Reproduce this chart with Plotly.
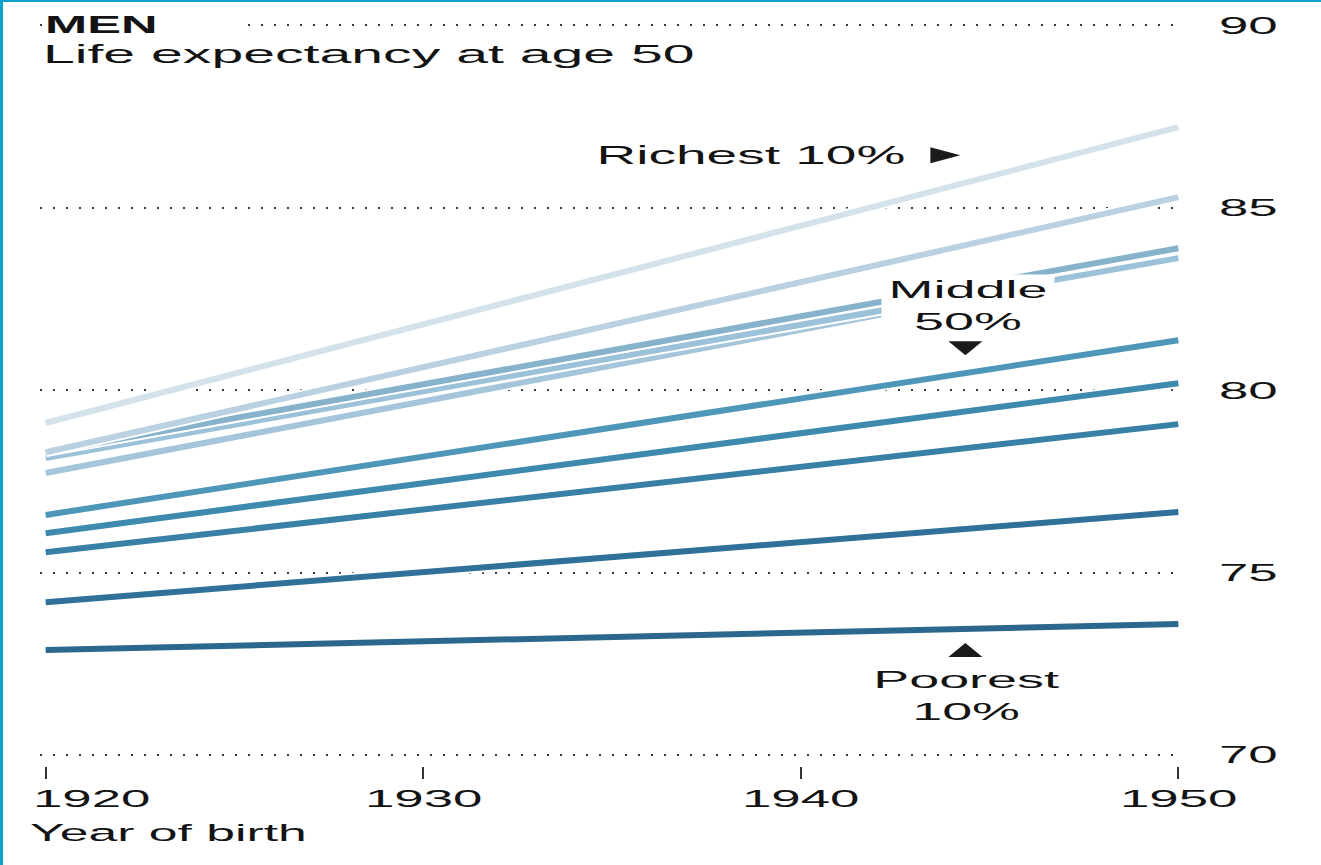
import plotly.graph_objects as go

# Birth cohorts shown on the x axis
birth_years = [1920, 1950]

# Life expectancy at 50 by income decile (richest first), for the 1920 and 1950 cohorts
group_names = ["Decile 10", "Decile 9", "Decile 8", "Decile 7", "Decile 6",
               "Decile 5", "Decile 4", "Decile 3", "Decile 2", "Decile 1"]
life_exp_1920 = [79.10, 78.30, 78.30, 78.14, 77.73, 76.58, 76.08, 75.56, 74.19, 72.88]
life_exp_1950 = [87.21, 85.29, 83.89, 83.62, 83.62, 81.37, 80.19, 79.07, 76.66, 73.59]
line_colors = ["#d3e2eb", "#b9d1e0", "#86b2cc", "#9cc2d9", "#a5c5da",
               "#4f97b8", "#3e8aae", "#3880a5", "#2f7198", "#2c678d"]

x_ticks = [1920, 1930, 1940, 1950]
y_ticks = [70, 75, 80, 85, 90]

FONT = "Liberation Sans, Arial, sans-serif"
INK = "#131313"
W, H = 1321, 865
ML, MR, MT, MB = 40, 137, 18, 99
PW, PH = W - ML - MR, H - MT - MB

fig = go.Figure()

# poorest first so richer lines sit on top; a white casing under each line
for i in reversed(range(len(group_names))):
    ys = [life_exp_1920[i], life_exp_1950[i]]
    fig.add_trace(go.Scatter(x=birth_years, y=ys, mode="lines",
                             line=dict(color="white", width=10),
                             hoverinfo="skip", showlegend=False))
    fig.add_trace(go.Scatter(x=birth_years, y=ys, mode="lines", name=group_names[i],
                             line=dict(color=line_colors[i], width=6),
                             showlegend=False))

annotations = []
# titles
annotations.append(dict(x=(44 - ML) / PW, y=90, xref="paper", yref="y", xanchor="left", yanchor="middle",
                        text="<b>MEN</b>", align="left", width=200, bgcolor="white", borderpad=0,
                        font=dict(family=FONT, size=23, color=INK), showarrow=False))
annotations.append(dict(x=(42 - ML) / PW, y=89.22, xref="paper", yref="y", xanchor="left", yanchor="middle",
                        text="Life expectancy at age 50", align="left", borderpad=0,
                        font=dict(family=FONT, size=26, color=INK), showarrow=False))
# group labels
annotations.append(dict(x=1942.8, y=86.44, xref="x", yref="y", xanchor="right", yanchor="middle",
                        text="Richest 10%", align="right",
                        font=dict(family=FONT, size=25, color=INK), showarrow=False))
annotations.append(dict(x=1944.44, y=82.33, xref="x", yref="y", xanchor="center", yanchor="middle",
                        text="Middle<br>50%", align="center", width=170, bgcolor="white",
                        font=dict(family=FONT, size=24.5, color=INK), showarrow=False))
annotations.append(dict(x=1944.39, y=71.63, xref="x", yref="y", xanchor="center", yanchor="middle",
                        text="Poorest<br>10%", align="center",
                        font=dict(family=FONT, size=24.5, color=INK), showarrow=False))
# x tick labels and axis caption
for yr in x_ticks:
    if yr == x_ticks[0]:
        annotations.append(dict(x=(32 - ML) / PW, y=-0.043, xref="paper", yref="paper",
                                xanchor="left", yanchor="middle", text=str(yr), align="left",
                                borderpad=0, font=dict(family=FONT, size=24, color=INK),
                                showarrow=False))
    else:
        annotations.append(dict(x=yr, y=-0.043, xref="x", yref="paper",
                                xanchor="center", yanchor="middle", text=str(yr), align="center",
                                font=dict(family=FONT, size=24, color=INK), showarrow=False))
annotations.append(dict(x=(29 - ML) / PW, y=-0.09, xref="paper", yref="paper", xanchor="left",
                        yanchor="middle", text="Year of birth", align="left", borderpad=0,
                        font=dict(family=FONT, size=23.5, color=INK), showarrow=False))

shapes = []
# pointer triangles next to the group labels (pixel-sized, anchored in data space)
for ax_, ay_, path in [(1943.83, 86.44, "M-15,8 L15,0 L-15,-8 Z"),
                       (1944.36, 81.15, "M-17,7 L17,7 L0,-7 Z"),
                       (1944.36, 72.88, "M-17,-7 L17,-7 L0,7 Z")]:
    shapes.append(dict(type="path", xref="x", yref="y", xsizemode="pixel", ysizemode="pixel",
                       xanchor=ax_, yanchor=ay_, path=path, fillcolor="#1b1b1b",
                       line=dict(width=0)))
# frame rules on the left and top edges of the page
shapes.append(dict(type="rect", xref="paper", yref="paper", x0=-ML / PW, x1=(-ML + 3) / PW,
                   y0=-MB / PH, y1=1 + MT / PH, fillcolor="#0aa2cc", line=dict(width=0)))
shapes.append(dict(type="rect", xref="paper", yref="paper", x0=-ML / PW, x1=1 + MR / PW,
                   y0=1 + (MT - 2) / PH, y1=1 + MT / PH, fillcolor="#0aa2cc", line=dict(width=0)))

fig.update_layout(
    width=W, height=H,
    margin=dict(l=ML, r=MR, t=MT, b=MB),
    paper_bgcolor="white", plot_bgcolor="white",
    showlegend=False,
    annotations=annotations,
    shapes=shapes,
    xaxis=dict(range=[1919.85, 1950.15], tickvals=x_ticks, showticklabels=False,
               ticks="outside", ticklen=12, tickwidth=2, tickcolor="#333333",
               showgrid=False, zeroline=False, showline=False, fixedrange=True),
    yaxis=dict(range=[69.7, 90.2], tickvals=y_ticks, side="right", ticks="",
               ticklabelstandoff=34, tickfont=dict(family=FONT, size=24, color=INK),
               showgrid=True, gridcolor="#3a3a3a", gridwidth=2, griddash="2px,11px",
               zeroline=False, showline=False, fixedrange=True),
)

# widen the label glyphs horizontally, keeping each label's anchor edge in place
post_js = """
document.body.style.margin = '0';
var gd = document.getElementById('{plot_id}');
var sx = 2.2;
gd.querySelectorAll('svg text').forEach(function (t) {
  if (!t.textContent.trim()) { return; }
  var b = t.getBBox();
  var anchor = t.getAttribute('text-anchor') || 'start';
  var cx = anchor === 'middle' ? b.x + b.width / 2 : (anchor === 'end' ? b.x + b.width : b.x);
  var base = t.getAttribute('transform') || '';
  t.setAttribute('transform', base + ' translate(' + cx + ',0) scale(' + sx + ',1) translate(' + (-cx) + ',0)');
});
"""

fig.write_html("out.html", config={"displayModeBar": False, "responsive": False},
               post_script=post_js)
